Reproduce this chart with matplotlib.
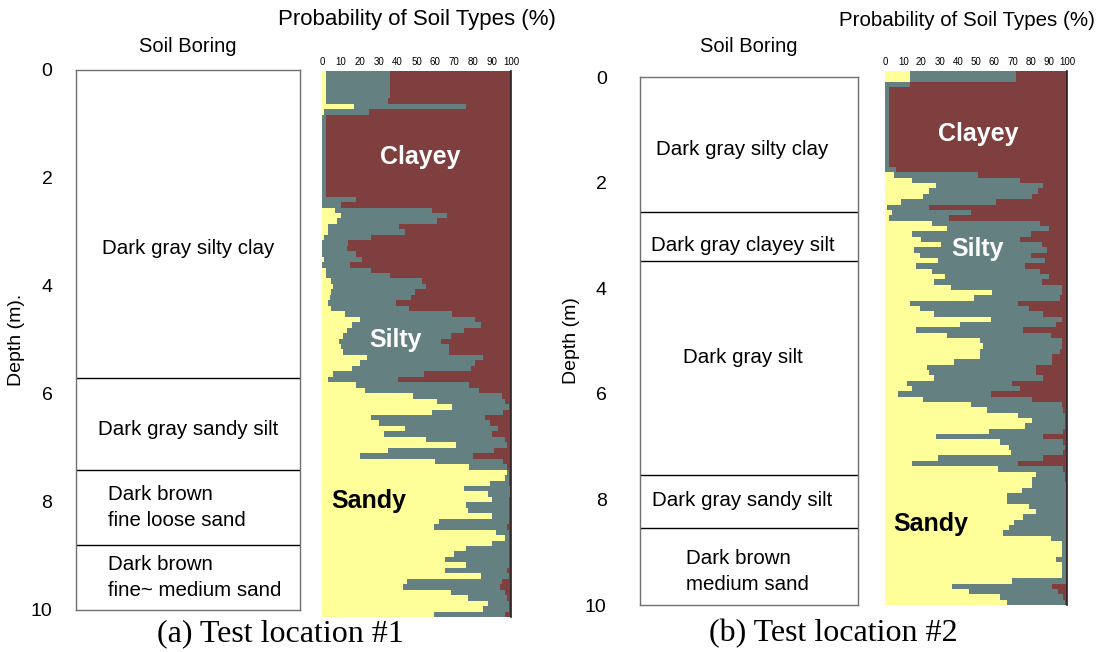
import matplotlib
matplotlib.use("Agg")
import matplotlib.pyplot as plt
import numpy as np

plt.rcParams['font.family'] = ['Liberation Sans', 'DejaVu Sans']

# probability rows, 0.1 m thick, from 0 to 10 m depth
depth_step = 0.1
depth_top = np.arange(0, 10, depth_step)

# location 1: sand %, sand+silt % (rest is clay)
sand1 = [2, 2, 2, 2, 2, 2, 17, 1, 0, 0,
         0, 0, 0, 0, 0, 0, 0, 0, 0, 0,
         0, 0, 0, 0, 0, 7, 10, 8, 3, 3,
         1, 0, 0, 0, 1, 0, 2, 2, 5, 6,
         5, 4, 3, 5, 12, 20, 16, 13, 11, 9,
         10, 11, 24, 20, 16, 6, 3, 18, 23, 48,
         61, 69, 58, 26, 30, 44, 33, 55, 71, 35,
         20, 60, 78, 98, 97, 89, 75, 88, 90, 76,
         77, 90, 62, 59, 92, 97, 90, 76, 70, 65,
         76, 65, 84, 45, 43, 68, 77, 88, 85, 59]
cum1 = [36, 36, 36, 36, 36, 35, 76, 25, 2, 2,
        2, 2, 2, 2, 2, 2, 2, 2, 2, 2,
        2, 2, 2, 18, 10, 58, 66, 61, 41, 44,
        26, 14, 13, 18, 21, 15, 26, 36, 53, 55,
        49, 47, 39, 46, 69, 81, 84, 75, 68, 63,
        67, 67, 85, 81, 79, 54, 40, 78, 83, 95,
        97, 99, 96, 86, 89, 93, 90, 97, 98, 91,
        80, 96, 98, 99, 99, 99, 99.5, 99.5, 99, 99,
        99, 99, 99, 98, 99, 99, 99, 99, 99, 99,
        99, 98, 99, 95, 94, 97, 98, 99, 99, 97]

# location 2
sand2 = [14, 14, 0, 0, 0, 0, 0, 0, 0, 0,
         0, 0, 0, 0, 0, 0, 0, 0, 0, 5,
         15, 28, 24, 21, 9, 1, 4, 2, 26, 34,
         15, 20, 31, 16, 19, 29, 17, 26, 33, 27,
         36, 59, 49, 14, 19, 27, 58, 41, 17, 34,
         52, 54, 52, 52, 38, 23, 24, 27, 12, 15,
         7, 21, 47, 56, 73, 81, 77, 57, 28, 63,
         68, 69, 29, 15, 62, 83, 81, 81, 75, 67,
         67, 79, 83, 76, 71, 68, 65, 91, 97, 97,
         97, 94, 97, 97, 97, 70, 37, 46, 63, 67]
cum2 = [72, 72, 14, 2, 2, 2, 2, 2, 2, 2,
        2, 2, 2, 2, 2, 2, 2, 2, 6, 51,
        74, 87, 84, 81, 61, 24, 47, 35, 85, 90,
        80, 74, 86, 89, 80, 88, 77, 85, 90, 86,
        97, 97, 96, 73, 79, 87, 97, 94, 76, 91,
        97, 97, 96, 92, 92, 83, 83, 87, 70, 74,
        58, 81, 97, 98, 99, 99, 99, 97.6, 87, 98,
        99, 97.6, 87, 73, 98, 99, 99, 99.5, 99.5, 99.5,
        99.5, 99.5, 99.5, 99.5, 99.5, 99.5, 99.5, 99.5, 99.5, 99.5,
        99.5, 99.5, 99.5, 99.5, 99.5, 99.5, 92, 95, 98, 99]

# boring logs: layer boundaries and labels (text, depth)
bounds1 = [5.7, 7.4, 8.8]
layers1 = [("Dark gray silty clay", 3.3), ("Dark gray sandy silt", 6.65),
           ("Dark brown\nfine loose sand", 8.1), ("Dark brown\nfine~ medium sand", 9.4)]
bounds2 = [2.56, 3.49, 7.53, 8.54]
layers2 = [("Dark gray silty clay", 1.37), ("Dark gray clayey silt", 3.19),
           ("Dark gray silt", 5.31), ("Dark gray sandy silt", 8.03),
           ("Dark brown\nmedium sand", 9.37)]

depth_ticks = [0, 2, 4, 6, 8, 10]
prob_ticks = list(range(0, 101, 10))

c_sand = '#FFFF99'
c_silt = '#648080'
c_clay = '#7F3F3F'

W, H = 1099, 652
fig = plt.figure(figsize=(W / 100, H / 100), dpi=100)


def px_axes(x0, y0, x1, y1):
    return fig.add_axes([x0 / W, 1 - y1 / H, (x1 - x0) / W, (y1 - y0) / H])


def boring(ax, bounds, layers, ylab, pad, lab_x, text_x, left_x, title_pad):
    ax.set_xlim(0, 1)
    ax.set_ylim(10, 0)
    ax.set_xticks([])
    ax.set_yticks(depth_ticks)
    ax.tick_params(axis='y', length=0, pad=pad, labelsize=14)
    for s in ax.spines.values():
        s.set_color('#707070')
        s.set_linewidth(1)
    for b in bounds:
        ax.axhline(b, color='black', lw=1)
    for txt, d in layers:
        if '\n' in txt:
            ax.text(left_x, d, txt, ha='left', va='center', fontsize=14.8,
                    linespacing=1.45)
        else:
            ax.text(text_x, d, txt, ha='center', va='center', fontsize=14.8)
    ax.set_title("Soil Boring", fontsize=14.5, pad=title_pad)
    ax.set_ylabel(ylab, fontsize=14)
    ax.yaxis.set_label_coords(lab_x, 0.5)


def probs(ax, sand, cum, labels):
    sand = np.array(sand, dtype=float)
    cum = np.array(cum, dtype=float)
    silt = cum - sand
    clay = 100 - cum
    kw = dict(height=depth_step, align='edge', linewidth=0)
    ax.barh(depth_top, sand, color=c_sand, **kw)
    ax.barh(depth_top, silt, left=sand, color=c_silt, **kw)
    ax.barh(depth_top, clay, left=cum, color=c_clay, **kw)
    ax.set_xlim(0, 100)
    ax.set_ylim(10, 0)
    ax.set_yticks([])
    ax.xaxis.tick_top()
    ax.set_xticks(prob_ticks)
    ax.tick_params(axis='x', length=0, pad=3, labelsize=7)
    for k in ['left', 'top', 'bottom']:
        ax.spines[k].set_visible(False)
    ax.spines['right'].set_color('#222222')
    ax.spines['right'].set_linewidth(1.2)
    for txt, x, d, col in labels:
        ax.text(x, d, txt, color=col, fontsize=18, fontweight='bold',
                ha='center', va='center')


# location 1
ax1 = px_axes(76, 70, 300, 610)
boring(ax1, bounds1, layers1, "Depth (m).", 17, -0.228, 0.5, 0.143, 13)
ax2 = px_axes(322, 71, 511, 617)
probs(ax2, sand1, cum1, [("Clayey", 52, 1.58, 'white'),
                         ("Silty", 39, 4.92, 'white'),
                         ("Sandy", 25, 7.87, 'black')])

# location 2
ax3 = px_axes(640, 77, 858, 605)
boring(ax3, bounds2, layers2, "Depth (m)", 24, -0.275, 0.47, 0.21, 18)
ax4 = px_axes(885, 71, 1067, 605)
probs(ax4, sand2, cum2, [("Clayey", 51, 1.18, 'white'),
                         ("Silty", 51, 3.33, 'white'),
                         ("Sandy", 25, 8.49, 'black')])

fig.text(417 / W, 1 - 20 / H, "Probability of Soil Types (%)", ha='center',
         va='center', fontsize=16)
fig.text(1095 / W, 1 - 20 / H, "Probability of Soil Types (%)", ha='right',
         va='center', fontsize=14.8)

fig.text(280 / W, 1 - 634 / H, "(a) Test location #1", ha='center', va='center',
         fontsize=23, family='Liberation Serif')
fig.text(833 / W, 1 - 634 / H, "(b) Test location #2", ha='center', va='center',
         fontsize=23, family='Liberation Serif')

fig.savefig("out.png", dpi=100)
